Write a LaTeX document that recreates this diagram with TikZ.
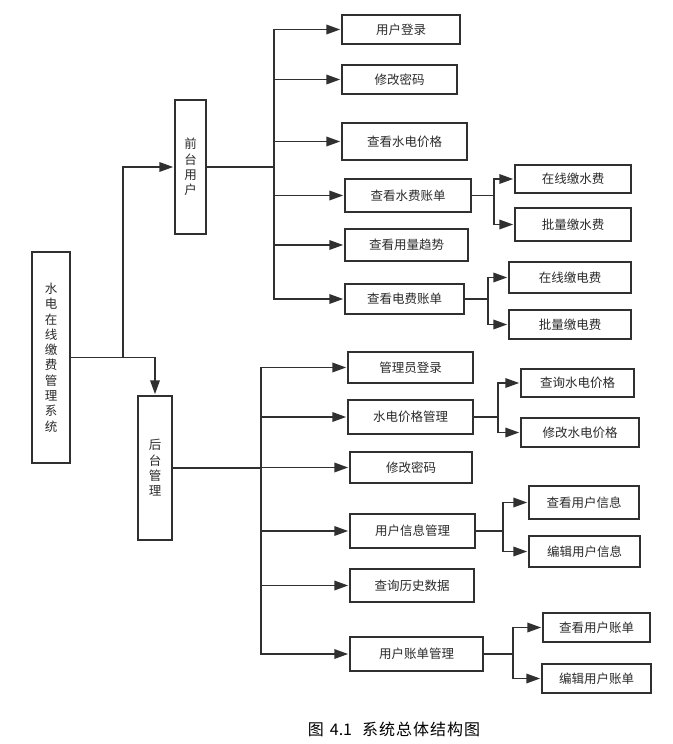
\documentclass[tikz,border=0pt]{standalone}
\usepackage{fontspec}
\setmainfont{Noto Sans CJK SC}
\usetikzlibrary{arrows.meta}
\definecolor{ln}{HTML}{303030}
\definecolor{tx}{HTML}{2A2A2A}
\begin{document}
\begin{tikzpicture}[x=1pt,y=-1pt,
  box/.style={draw=ln,line width=1.9pt,inner sep=0pt,text=tx,
    font=\fontsize{12.5}{15.3}\selectfont,align=center},
  vbox/.style={box,text width=13pt},
  conn/.style={draw=ln,line width=1.9pt},
  arr/.style={conn,-{Triangle[length=14pt,width=9.5pt]},shorten >=0.8pt},
  wh/.style args={#1x#2}{minimum width=#1pt,minimum height=#2pt}]
\useasboundingbox (0,0) rectangle (672,744);
% level 0 and 1
\node[vbox,wh=38x211] (root) at (51,357.5) {水\\电\\在\\线\\缴\\费\\管\\理\\系\\统};
\node[vbox,wh=31x134] (front) at (190.5,167) {前\\台\\用\\户};
\node[vbox,wh=34x144] (back) at (155,468) {后\\台\\管\\理};
% front children
\node[box,wh=118x29] (f1) at (401,29.5) {用户登录};
\node[box,wh=115x29] (f2) at (399.5,79.5) {修改密码};
\node[box,wh=125x37] (f3) at (404.5,141.5) {查看水电价格};
\node[box,wh=126x33] (f4) at (408,195.5) {查看水费账单};
\node[box,wh=123x32] (f5) at (406.5,245) {查看用量趋势};
\node[box,wh=119x30] (f6) at (404.5,299) {查看电费账单};
\node[box,wh=116x28] (f4a) at (573,179) {在线缴水费};
\node[box,wh=116x33] (f4b) at (573,224.5) {批量缴水费};
\node[box,wh=122x31] (f6a) at (570,277.5) {在线缴电费};
\node[box,wh=122x29] (f6b) at (570,324.5) {批量缴电费};
% back children
\node[box,wh=125x31] (b1) at (410.5,367.5) {管理员登录};
\node[box,wh=125x34] (b2) at (410.5,417) {水电价格管理};
\node[box,wh=122x31] (b3) at (411,467.5) {修改密码};
\node[box,wh=125x34] (b4) at (412.5,531) {用户信息管理};
\node[box,wh=124x33] (b5) at (412,585.5) {查询历史数据};
\node[box,wh=133x34] (b6) at (416.5,654) {用户账单管理};
\node[box,wh=113x28] (b2a) at (577.5,383) {查询水电价格};
\node[box,wh=118x29] (b2b) at (580,432.5) {修改水电价格};
\node[box,wh=110x33] (b4a) at (584,502.5) {查看用户信息};
\node[box,wh=111x31] (b4b) at (584.5,551.5) {编辑用户信息};
\node[box,wh=107x29] (b6a) at (596.5,627.5) {查看用户账单};
\node[box,wh=109x29] (b6b) at (596.5,678.5) {编辑用户账单};
% caption
\node[inner sep=0pt,text=black,font=\fontsize{16}{18}\selectfont] (cap) at (394,729) {图\hspace{6pt}4.1\hspace{10pt}系\hspace{1pt}统\hspace{1pt}总\hspace{1pt}体\hspace{1pt}结\hspace{1pt}构\hspace{1pt}图};
% root connectors
\draw[arr] (root.east) -- ++(52,0) |- (front.west);
\draw[arr] (root.east) -| (back.north);
% front bus
\coordinate (bF) at (274,167);
\draw[conn] (front.east) -- (bF);
\foreach \c in {f1,f2,f3,f4,f5,f6} \draw[arr] (bF) |- (\c.west);
\foreach \c in {f4a,f4b} \draw[arr] (f4.east) -- ++(22,0) |- (\c.west);
\foreach \c in {f6a,f6b} \draw[arr] (f6.east) -- ++(23,0) |- (\c.west);
% back bus
\coordinate (bB) at (261,468);
\draw[conn] (back.east) -- (bB);
\foreach \c in {b1,b2,b3,b4,b5,b6} \draw[arr] (bB) |- (\c.west);
\foreach \c in {b2a,b2b} \draw[arr] (b2.east) -- ++(24,0) |- (\c.west);
\foreach \c in {b4a,b4b} \draw[arr] (b4.east) -- ++(27,0) |- (\c.west);
\foreach \c in {b6a,b6b} \draw[arr] (b6.east) -- ++(29,0) |- (\c.west);
\end{tikzpicture}
\end{document}
